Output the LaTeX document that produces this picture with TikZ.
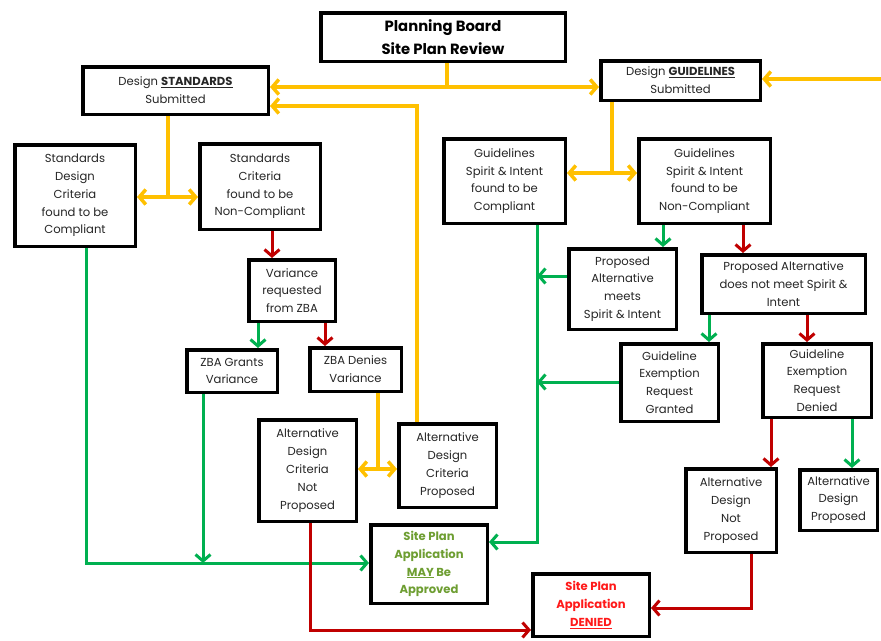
\documentclass[tikz,border=0pt]{standalone}
\usepackage{fontspec}
\setmainfont{Poppins}
\usetikzlibrary{arrows.meta}
\definecolor{yel}{HTML}{FFC000}
\definecolor{grn}{HTML}{00B050}
\definecolor{rd}{HTML}{C00000}
\definecolor{olv}{HTML}{6E9E32}
\definecolor{brt}{HTML}{FF1A1A}
\begin{document}
\begin{tikzpicture}[x=1pt,y=-1pt,
  box/.style={draw=black, line width=3.5pt, fill=white, align=center, inner sep=0pt,
    font=\fontsize{11.6}{17.8}\selectfont, text=black!85},
  tip/.style={-{Straight Barb[length=6.5pt,width=15pt]}},
  tipb/.style={{Straight Barb[length=6.5pt,width=15pt]}-{Straight Barb[length=6.5pt,width=15pt]}},
  yl/.style={draw=yel, line width=3.5pt},
  gl/.style={draw=grn, line width=3pt},
  rl/.style={draw=rd, line width=3pt}]
\useasboundingbox (0,0) rectangle (881,640);
% nodes
\node[box, minimum width=244.5pt, minimum height=48.5pt, font=\fontsize{14.8}{23}\selectfont\bfseries, text=black] (pb) at (443,37) {Planning Board\\Site Plan Review};
\node[box, minimum width=185.5pt, minimum height=47.5pt] (std) at (175.5,90.5) {Design \textbf{\underline{STANDARDS}}\\Submitted};
\node[box, minimum width=159.5pt, minimum height=39.5pt] (gui) at (680.5,80.5) {\raisebox{-4pt}{Design \textbf{\underline{GUIDELINES}}}\\\raisebox{-4pt}{Submitted}};
\node[box, minimum width=120.5pt, minimum height=101.5pt] (sc) at (75,195.5) {Standards\\Design\\Criteria\\found to be\\Compliant};
\node[box, minimum width=120.5pt, minimum height=85.5pt] (snc) at (260,186.5) {Standards\\Criteria\\found to be\\Non-Compliant};
\node[box, minimum width=86.5pt, minimum height=61.5pt] (var) at (292,290.5) {Variance\\requested\\from ZBA};
\node[box, minimum width=90.5pt, minimum height=42.5pt] (zg) at (232,371) {ZBA Grants\\Variance};
\node[box, minimum width=91.5pt, minimum height=43.5pt] (zd) at (355.5,369.5) {ZBA Denies\\Variance};
\node[box, minimum width=97.5pt, minimum height=101.5pt] (anp) at (307.5,470.5) {Alternative\\Design\\Criteria\\Not\\Proposed};
\node[box, minimum width=97.5pt, minimum height=83.5pt] (ap) at (447.5,465.5) {Alternative\\Design\\Criteria\\Proposed};
\node[box, minimum width=116.5pt, minimum height=78.5pt, text=olv, font=\fontsize{11.6}{17.8}\selectfont\bfseries] (may) at (429,564) {Site Plan\\Application\\\underline{MAY} Be\\Approved};
\node[box, minimum width=121.5pt, minimum height=84.5pt] (gc) at (504.5,181) {Guidelines\\Spirit \& Intent\\found to be\\Compliant};
\node[box, minimum width=131.5pt, minimum height=84.5pt] (gnc) at (704.5,181) {Guidelines\\Spirit \& Intent\\found to be\\Non-Compliant};
\node[box, minimum width=107.5pt, minimum height=80.5pt] (pm) at (622.5,289) {Proposed\\Alternative\\meets\\Spirit \& Intent};
\node[box, minimum width=163.5pt, minimum height=58.5pt] (pdn) at (783.5,284) {Proposed Alternative\\does not meet Spirit \&\\Intent};
\node[box, minimum width=97.5pt, minimum height=77.5pt] (eg) at (669.5,382.5) {Guideline\\Exemption\\Request\\Granted};
\node[box, minimum width=108.5pt, minimum height=73.5pt] (ed) at (817,380.5) {Guideline\\Exemption\\Request\\Denied};
\node[box, minimum width=90.5pt, minimum height=83.5pt] (adnp) at (731,510.5) {Alternative\\Design\\Not\\Proposed};
\node[box, minimum width=77.5pt, minimum height=60.5pt] (adp) at (838.5,500) {Alternative\\Design\\Proposed};
\node[box, minimum width=116.5pt, minimum height=62.5pt, text=brt, font=\fontsize{11.6}{17.8}\selectfont\bfseries] (den) at (591,605) {Site Plan\\Application\\\underline{DENIED}};
% helper coordinates
\coordinate (j1) at (447,87);
\coordinate (rin) at (881,79);
\coordinate (k1) at (417,106);
\coordinate (j2) at (168,197);
\coordinate (c1) at (272,0);
\coordinate (c2) at (258,0);
\coordinate (c3) at (325,0);
\coordinate (c4) at (203,0);
\coordinate (c5) at (86,0);
\coordinate (h1) at (0,563);
\coordinate (j3) at (378,469);
\coordinate (c6) at (310,630);
\coordinate (j4) at (612,173);
\coordinate (c7) at (537,542);
\coordinate (c8) at (663,0);
\coordinate (c9) at (743,0);
\coordinate (h2) at (0,276);
\coordinate (c10) at (709,0);
\coordinate (c11) at (807,0);
\coordinate (h3) at (0,382);
\coordinate (c12) at (771,0);
\coordinate (c13) at (852,0);
\coordinate (c14) at (751,608);
% yellow
\draw[yl] (pb.south -| j1) -- (j1);
\draw[yl,tip] (j1) -- (std.east |- j1);
\draw[yl,tip] (j1) -- (gui.west |- j1);
\draw[yl,tip] (rin) -- (gui.east |- rin);
\draw[yl,tip] (ap.north -| k1) -- (k1) -- (std.east |- k1);
\draw[yl] (std.south -| j2) -- (j2);
\draw[yl,tipb] (sc.east |- j2) -- (snc.west |- j2);
\draw[yl] (zd.south -| j3) -- (j3);
\draw[yl,tipb] (anp.east |- j3) -- (ap.west |- j3);
\draw[yl] (gui.south -| j4) -- (j4);
\draw[yl,tipb] (gc.east |- j4) -- (gnc.west |- j4);
% standards side
\draw[rl,tip] (snc.south -| c1) -- (var.north -| c1);
\draw[gl,tip] (var.south -| c2) -- (zg.north -| c2);
\draw[rl,tip] (var.south -| c3) -- (zd.north -| c3);
\draw[gl,tip] (sc.south -| c5) -- (c5 |- h1) -- (may.west |- h1);
\draw[gl,tip] (zg.south -| c4) -- (c4 |- h1);
\draw[rl,tip] (anp.south -| c6) -- (c6) -- (den.west |- c6);
% guidelines side
\draw[gl,tip] (gc.south -| c7) -- (c7) -- (may.east |- c7);
\draw[gl,tip] (gnc.south -| c8) -- (pm.north -| c8);
\draw[rl,tip] (gnc.south -| c9) -- (pdn.north -| c9);
\draw[gl,tip] (pm.west |- h2) -- (c7 |- h2);
\draw[gl,tip] (pdn.south -| c10) -- (eg.north -| c10);
\draw[rl,tip] (pdn.south -| c11) -- (ed.north -| c11);
\draw[gl,tip] (eg.west |- h3) -- (c7 |- h3);
\draw[rl,tip] (ed.south -| c12) -- (adnp.north -| c12);
\draw[gl,tip] (ed.south -| c13) -- (adp.north -| c13);
\draw[rl,tip] (adnp.south -| c14) -- (c14) -- (den.east |- c14);
\end{tikzpicture}
\end{document}
